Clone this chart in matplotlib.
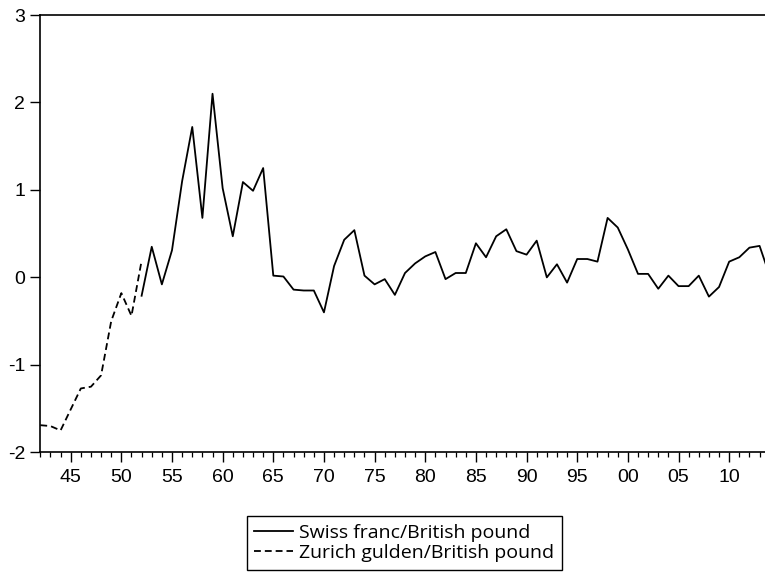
import numpy as np
import matplotlib
matplotlib.use("Agg")
import matplotlib.pyplot as plt
from matplotlib.ticker import MultipleLocator, FuncFormatter

plt.rcParams['axes.unicode_minus'] = False
plt.rcParams['font.family'] = ['Liberation Sans', 'DejaVu Sans']

# Zurich gulden / British pound, 1842-1852
gulden_years = np.arange(1842, 1853)
gulden = [-1.69, -1.70, -1.75, -1.51, -1.27, -1.25, -1.12, -0.50, -0.18, -0.44, 0.19]

# Swiss franc / British pound, 1852-1914
franc_years = np.arange(1852, 1915)
franc = [-0.21, 0.35, -0.08, 0.31, 1.10, 1.72, 0.68, 2.10, 1.02, 0.47,
         1.09, 0.99, 1.25, 0.02, 0.01, -0.14, -0.15, -0.15, -0.40, 0.13,
         0.43, 0.54, 0.02, -0.08, -0.02, -0.20, 0.05, 0.16, 0.24, 0.29,
         -0.02, 0.05, 0.05, 0.39, 0.23, 0.47, 0.55, 0.30, 0.26, 0.42,
         0.00, 0.15, -0.06, 0.21, 0.21, 0.18, 0.68, 0.57, 0.32, 0.04,
         0.04, -0.13, 0.02, -0.10, -0.10, 0.02, -0.22, -0.11, 0.18, 0.23,
         0.34, 0.36, 0.02]

fig = plt.figure(figsize=(7.65, 5.73), dpi=100)
ax = fig.add_axes([40.3 / 765, 1 - 452.3 / 573, (769.7 - 40.3) / 765, (452.3 - 15) / 573])

l1, = ax.plot(franc_years, franc, color='black', lw=1.3, label='Swiss franc/British pound')
l2, = ax.plot(gulden_years, gulden, color='black', lw=1.3, label='Zurich gulden/British pound')
l2.set_dashes((3.8, 2.2))

ax.set_xlim(1842, 1914)
ax.set_ylim(-2, 3)
ax.set_xticks(np.arange(1845, 1915, 5))
ax.xaxis.set_minor_locator(MultipleLocator(1))
ax.xaxis.set_major_formatter(FuncFormatter(lambda v, p: "%02d" % (int(round(v)) % 100)))
ax.set_yticks([-2, -1, 0, 1, 2, 3])
ax.yaxis.set_major_formatter(FuncFormatter(lambda v, p: "%d" % v))

for s in ax.spines.values():
    s.set_linewidth(1.2)
ax.tick_params(axis='x', which='major', length=7, width=1.0, labelsize=14, pad=5)
ax.tick_params(axis='x', which='minor', length=3.5, width=0.9)
ax.tick_params(axis='y', which='major', length=7, width=1.0, labelsize=14, pad=4)

leg = fig.legend(handles=[l1, l2], loc='upper left',
                 bbox_to_anchor=(246.7 / 765, 1 - 516 / 573),
                 prop={'family': 'Open Sans', 'size': 14},
                 frameon=True, fancybox=False, framealpha=1,
                 handlelength=2.0, handletextpad=0.3, borderpad=0.4,
                 labelspacing=0.12, borderaxespad=0)
leg.get_frame().set_edgecolor('black')
leg.get_frame().set_linewidth(1.0)

fig.savefig('out.png', dpi=100)
